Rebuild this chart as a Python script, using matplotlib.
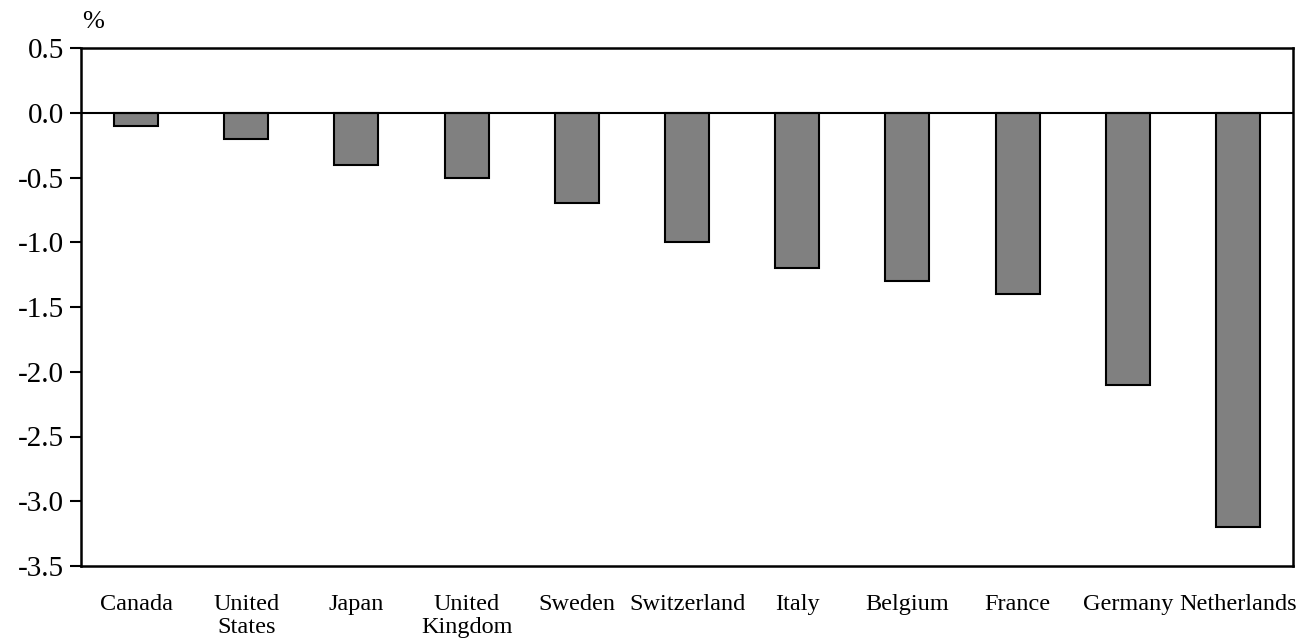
import matplotlib.pyplot as plt
import numpy as np

plt.rcParams["font.family"] = ["Liberation Serif", "DejaVu Serif"]

# Data
countries = ["Canada", "United\nStates", "Japan", "United\nKingdom", "Sweden",
             "Switzerland", "Italy", "Belgium", "France", "Germany", "Netherlands"]
values = [-0.1, -0.2, -0.4, -0.5, -0.7, -1.0, -1.2, -1.3, -1.4, -2.1, -3.2]
yticks = [0.5, 0.0, -0.5, -1.0, -1.5, -2.0, -2.5, -3.0, -3.5]

fig = plt.figure(figsize=(12.96, 6.4), dpi=100)
ax = fig.add_axes([81 / 1296, 1 - 566 / 640, 1212 / 1296, 518 / 640])

x = np.arange(len(countries))
ax.bar(x, values, width=0.4, color="#808080", edgecolor="black", linewidth=1.5, zorder=2)
ax.axhline(0, color="black", linewidth=1.5, zorder=3)

ax.set_xlim(-0.5, len(countries) - 0.5)
ax.set_ylim(-3.5, 0.5)
ax.set_yticks(yticks)
ax.set_yticklabels([f"{v:.1f}" for v in yticks], fontsize=21)
ax.set_xticks(x)
ax.set_xticklabels(countries, fontsize=17.5, linespacing=1.15)
ax.tick_params(axis="x", length=0, pad=20)
ax.tick_params(axis="y", direction="out", length=8, width=1.5, pad=4)
for s in ax.spines.values():
    s.set_linewidth(1.8)

fig.text(82 / 1296, 1 - 22 / 640, "%", fontsize=19, ha="left", va="center")

fig.savefig("out.png", dpi=100)
